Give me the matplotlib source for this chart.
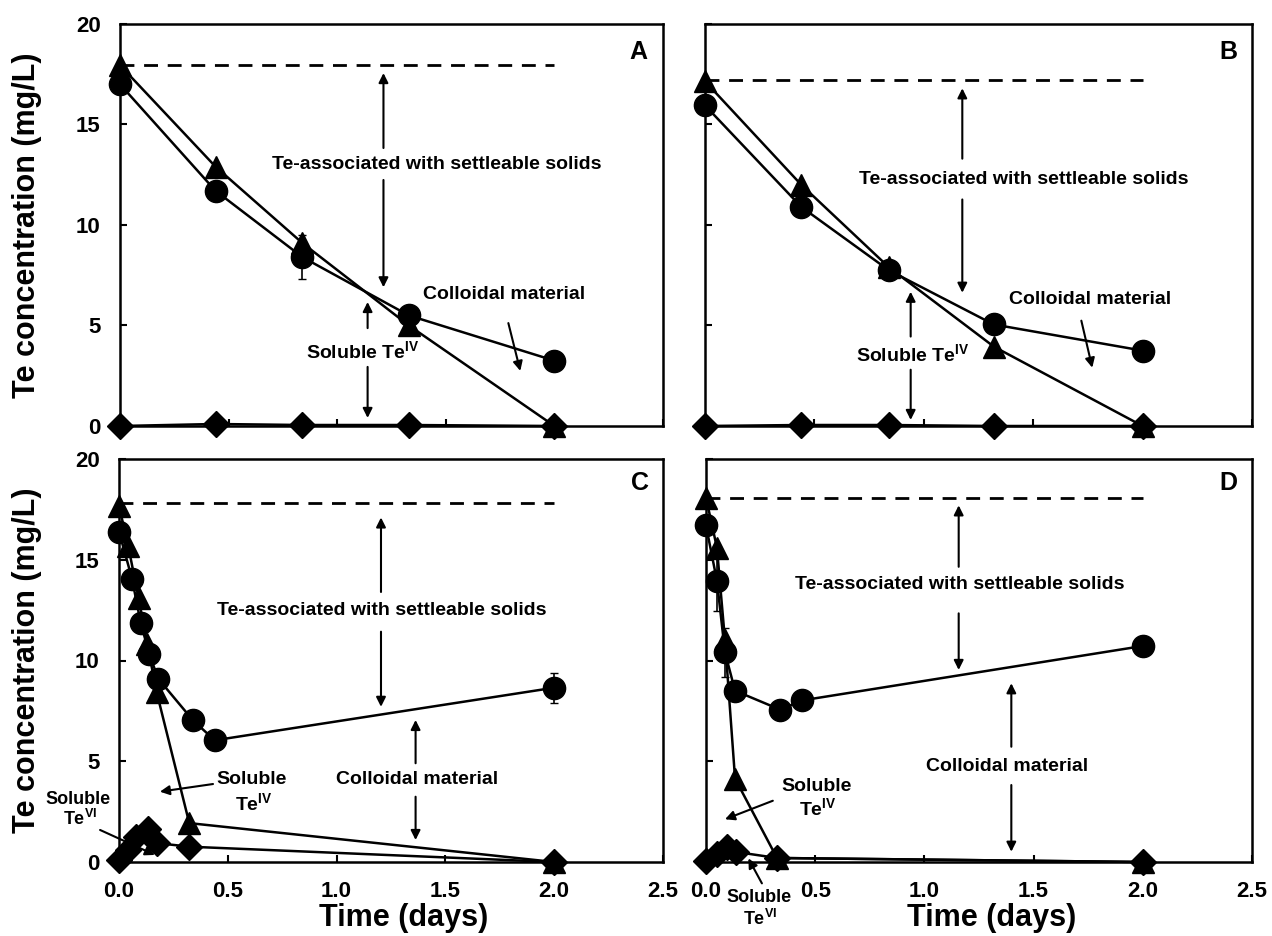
import matplotlib
matplotlib.use('Agg')
import matplotlib.pyplot as plt

plt.rcParams['font.family'] = ['Liberation Sans', 'DejaVu Sans']
plt.rcParams['font.weight'] = 'bold'
plt.rcParams['mathtext.fontset'] = 'custom'
plt.rcParams['mathtext.rm'] = 'Liberation Sans:bold'
plt.rcParams['mathtext.default'] = 'rm'

# ---- data (Te in mg/L, time in days) ----
# panel A
tA = [0, 0.44, 0.84, 1.33, 2.0]
circA = [17.0, 11.7, 8.4, 5.5, 3.25]
circA_err = [0.5, 0, 1.1, 0, 0]
triA = [17.95, 12.9, 9.1, 5.0, 0.0]
diaA = [0.0, 0.1, 0.05, 0.05, 0.0]
totA = 17.96

# panel B
tB = [0, 0.44, 0.84, 1.32, 2.0]
circB = [15.95, 10.9, 7.75, 5.05, 3.75]
circB_err = [0, 0, 0, 0, 0]
triB = [17.15, 12.0, 7.9, 3.95, 0.0]
diaB = [0.0, 0.05, 0.05, 0.0, 0.0]
totB = 17.2

# panel C
tC_circ = [0, 0.06, 0.10, 0.14, 0.18, 0.34, 0.44, 2.0]
circC = [16.4, 14.05, 11.85, 10.3, 9.1, 7.03, 6.04, 8.65]
circC_err = [0, 0, 0.5, 0, 0, 0, 0, 0.75]
tC_tri = [0, 0.042, 0.09, 0.13, 0.173, 0.323, 2.0]
triC = [17.67, 15.7, 13.1, 10.8, 8.43, 1.93, 0.0]
tC_dia = [0, 0.04, 0.08, 0.135, 0.173, 0.323, 2.0]
diaC = [0.1, 0.6, 1.25, 1.66, 0.94, 0.76, 0.0]
totC = 17.83

# panel D
tD_circ = [0, 0.05, 0.087, 0.133, 0.34, 0.44, 2.0]
circD = [16.7, 13.96, 10.4, 8.5, 7.56, 8.02, 10.72]
circD_err = [0, 1.5, 1.2, 0, 0, 0, 0]
tD_tri = [0, 0.05, 0.087, 0.133, 0.325, 2.0]
triD = [18.08, 15.6, 11.0, 4.14, 0.2, 0.0]
tD_dia = [0, 0.05, 0.095, 0.137, 0.325, 2.0]
diaD = [0.05, 0.4, 0.76, 0.5, 0.2, 0.0]
totD = 18.08

W, H = 1272, 936
fig = plt.figure(figsize=(W / 100, H / 100), dpi=100)


def box(l, t, r, b):
    return [l / W, 1 - b / H, (r - l) / W, (b - t) / H]


axA = fig.add_axes(box(120, 24, 663, 426))
axB = fig.add_axes(box(705, 24, 1252, 426))
axC = fig.add_axes(box(119, 459, 663, 862))
axD = fig.add_axes(box(706, 459, 1252, 862))

ANN = 14


def style(ax, xlab, ylab):
    ax.set_xlim(0, 2.5)
    ax.set_ylim(0, 20)
    ax.set_xticks([0, 0.5, 1.0, 1.5, 2.0, 2.5])
    ax.set_yticks([0, 5, 10, 15, 20])
    ax.set_xticklabels(['0.0', '0.5', '1.0', '1.5', '2.0', '2.5'] if xlab else [])
    ax.set_yticklabels(['0', '5', '10', '15', '20'] if ylab else [])
    ax.tick_params(direction='in', length=5, width=1.5, labelsize=16)
    ax.tick_params(axis='x', pad=14)
    ax.tick_params(axis='y', pad=14)
    for s in ax.spines.values():
        s.set_linewidth(1.8)


def series(ax, t, y, marker, ms, err=None):
    if err is not None and any(e > 0 for e in err):
        ax.errorbar(t, y, yerr=err, fmt='none', ecolor='k', elinewidth=1.2,
                    capsize=3, clip_on=False, zorder=2)
    ax.plot(t, y, color='k', lw=1.8, marker=marker, ms=ms, mfc='k', mec='k',
            clip_on=False, zorder=3)


def arrow(ax, x0, y0, x1, y1):
    ax.annotate('', xy=(x1, y1), xytext=(x0, y0), annotation_clip=False,
                arrowprops=dict(arrowstyle='-|>', lw=1.5, color='k',
                                mutation_scale=14, shrinkA=0, shrinkB=0))


def txt(ax, x, y, s, size=ANN):
    ax.text(x, y, s, ha='center', va='center', fontsize=size, fontweight='bold')


def total(ax, level):
    ax.plot([0, 2.0], [level, level], color='k', lw=2.0, ls=(0, (5, 3.5)))


# ---- A ----
style(axA, False, True)
total(axA, totA)
series(axA, tA, diaA, 'D', 13)
series(axA, tA, triA, '^', 16)
series(axA, tA, circA, 'o', 16, circA_err)
txt(axA, 1.46, 13.0, 'Te-associated with settleable solids')
arrow(axA, 1.213, 13.83, 1.213, 17.56)
arrow(axA, 1.213, 12.24, 1.213, 6.9)
txt(axA, 1.12, 3.7, 'Soluble Te$^{IV}$')
arrow(axA, 1.14, 4.87, 1.14, 6.17)
arrow(axA, 1.14, 2.94, 1.14, 0.4)
txt(axA, 1.77, 6.52, 'Colloidal material')
arrow(axA, 1.788, 5.12, 1.843, 2.74)
axA.text(0.954, 0.93, 'A', transform=axA.transAxes, ha='center', va='center',
         fontsize=18, fontweight='bold')

# ---- B ----
style(axB, False, False)
total(axB, totB)
series(axB, tB, diaB, 'D', 13)
series(axB, tB, triB, '^', 16)
series(axB, tB, circB, 'o', 16, circB_err)
txt(axB, 1.458, 12.27, 'Te-associated with settleable solids')
arrow(axB, 1.176, 13.3, 1.176, 16.8)
arrow(axB, 1.176, 11.27, 1.176, 6.63)
txt(axB, 0.95, 3.55, 'Soluble Te$^{IV}$')
arrow(axB, 0.94, 4.45, 0.94, 6.68)
arrow(axB, 0.94, 2.8, 0.94, 0.3)
txt(axB, 1.76, 6.28, 'Colloidal material')
arrow(axB, 1.72, 5.24, 1.77, 2.9)
axB.text(0.956, 0.93, 'B', transform=axB.transAxes, ha='center', va='center',
         fontsize=18, fontweight='bold')

# ---- C ----
style(axC, True, True)
total(axC, totC)
series(axC, tC_dia, diaC, 'D', 13)
series(axC, tC_tri, triC, '^', 16)
series(axC, tC_circ, circC, 'o', 16, circC_err)
txt(axC, 1.206, 12.5, 'Te-associated with settleable solids')
arrow(axC, 1.204, 13.4, 1.204, 17.1)
arrow(axC, 1.204, 11.43, 1.204, 7.7)
txt(axC, 1.37, 4.07, 'Colloidal material')
arrow(axC, 1.363, 4.9, 1.363, 7.05)
arrow(axC, 1.363, 3.24, 1.363, 1.09)
txt(axC, 0.61, 4.1, 'Soluble')
txt(axC, 0.62, 2.9, 'Te$^{IV}$')
arrow(axC, 0.432, 3.87, 0.188, 3.49)
txt(axC, -0.19, 3.12, 'Soluble', 13)
txt(axC, -0.18, 2.15, 'Te$^{VI}$', 13)
arrow(axC, -0.087, 1.59, 0.165, 0.35)
axC.text(0.958, 0.94, 'C', transform=axC.transAxes, ha='center', va='center',
         fontsize=18, fontweight='bold')

# ---- D ----
style(axD, True, False)
total(axD, totD)
series(axD, tD_dia, diaD, 'D', 13)
series(axD, tD_tri, triD, '^', 16)
series(axD, tD_circ, circD, 'o', 16, circD_err)
txt(axD, 1.16, 13.75, 'Te-associated with settleable solids')
arrow(axD, 1.157, 14.65, 1.157, 17.7)
arrow(axD, 1.157, 12.34, 1.157, 9.53)
txt(axD, 1.38, 4.76, 'Colloidal material')
arrow(axD, 1.398, 5.72, 1.398, 8.87)
arrow(axD, 1.398, 3.82, 1.398, 0.51)
txt(axD, 0.505, 3.75, 'Soluble')
txt(axD, 0.51, 2.65, 'Te$^{IV}$')
arrow(axD, 0.306, 3.04, 0.087, 2.12)
txt(axD, 0.243, -1.75, 'Soluble', 13)
txt(axD, 0.25, -2.85, 'Te$^{VI}$', 13)
arrow(axD, 0.256, -1.06, 0.194, 0.18)
axD.text(0.956, 0.94, 'D', transform=axD.transAxes, ha='center', va='center',
         fontsize=18, fontweight='bold')

# axis titles
for yc in (225, 660):
    fig.text(27 / W, 1 - yc / H, 'Te concentration (mg/L)', rotation=90,
             ha='center', va='center', fontsize=22, fontweight='bold')
for xc in (404, 992):
    fig.text(xc / W, 1 - 926 / H, 'Time (days)', ha='center', va='baseline',
             fontsize=22, fontweight='bold')

fig.savefig('out.png', dpi=100)
